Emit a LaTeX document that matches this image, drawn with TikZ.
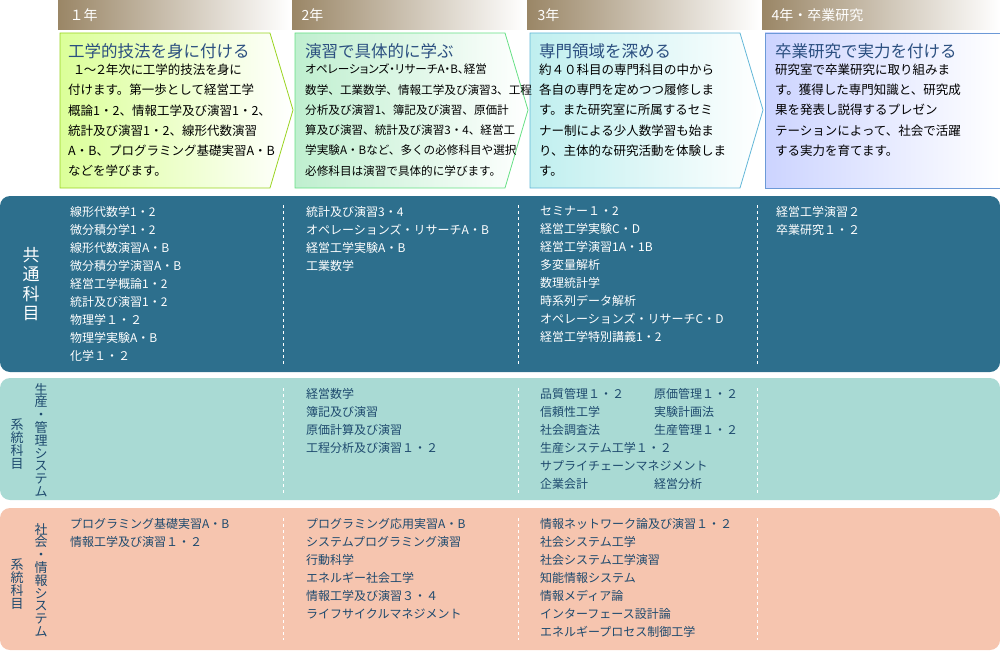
\documentclass[tikz,border=0pt]{standalone}
\usepackage{fontspec}
\setmainfont{Noto Sans CJK JP}
\usetikzlibrary{positioning}
\definecolor{headbrown}{HTML}{9A8666}
\definecolor{bandblue}{HTML}{2D6F8D}
\definecolor{bandmint}{HTML}{A9DAD4}
\definecolor{bandpeach}{HTML}{F6C5AF}
\definecolor{navytext}{HTML}{1E4A6E}
\definecolor{titletext}{HTML}{2B4F80}
\tikzset{
  yearhead/.style={anchor=west,font=\fontsize{14}{14}\selectfont,text=white},
  chevtitle/.style={anchor=north west,font=\fontsize{16.5}{16.5}\selectfont,text=titletext,inner sep=0pt},
  chevbody/.style={anchor=north west,font=\fontsize{12.5}{20.3}\selectfont,align=left,inner sep=0pt},
  subjects/.style={anchor=north west,font=\fontsize{12}{18}\selectfont,align=left,inner sep=0pt},
  vlabel/.style={font=\fontsize{13}{12.8}\selectfont,align=center,inner sep=0pt},
  divider/.style={white,dashed,line width=0.8pt}
}
\begin{document}
\begin{tikzpicture}[x=1pt,y=-1pt]
  \useasboundingbox (0,0) rectangle (1000,650);
  % year headers
  \foreach \xa/\xb in {58/290,292/525,527/760,762/1000}
    \shade[left color=headbrown,right color=white] (\xa,0) rectangle (\xb,30);
  \node[yearhead] (h1) at (66,15) {１年};
  \node[yearhead] (h2) at (298,15) {2年};
  \node[yearhead] (h3) at (534,15) {3年};
  \node[yearhead] (h4) at (768,15) {4年・卒業研究};
  % chevrons
  \shade[left color=green!35!yellow!40,right color=white] (60,33) -- (270,33) -- (293,110) -- (270,188) -- (60,188) -- cycle;
  \draw[yellow!60!green,line width=0.8pt] (60,33) -- (270,33) -- (293,110) -- (270,188) -- (60,188) -- cycle;
  \shade[left color=green!50!teal!25,right color=white] (295,33) -- (505,33) -- (528,110) -- (505,188) -- (295,188) -- cycle;
  \draw[green!60!teal!60,line width=0.8pt] (295,33) -- (505,33) -- (528,110) -- (505,188) -- (295,188) -- cycle;
  \shade[left color=cyan!50!teal!25,right color=white] (530,33) -- (740,33) -- (763,110) -- (740,188) -- (530,188) -- cycle;
  \draw[cyan!60!teal!70,line width=0.8pt] (530,33) -- (740,33) -- (763,110) -- (740,188) -- (530,188) -- cycle;
  \shade[left color=cyan!15!blue!20,right color=white] (765,33) rectangle (1000,188);
  \draw[cyan!50!blue!60,line width=0.8pt] (765,33) rectangle (1000,188);
  \node[chevtitle] (t1) at (68,43) {工学的技法を身に付ける};
  \node[chevbody,below=5pt of t1.south west,anchor=north west] (b1) {\addfontfeature{RawFeature=+palt}\hspace{0.5em}１～２年次に工学的技法を身に\\付けます。第一歩として経営工学\\概論1・2、情報工学及び演習1・2、\\統計及び演習1・2、線形代数演習\\A・B、プログラミング基礎実習A・B\\などを学びます。};
  \node[chevtitle] (t2) at (305,43) {演習で具体的に学ぶ};
  \node[chevbody,below=5pt of t2.south west,anchor=north west,font=\fontsize{11.6}{20.3}\selectfont] (b2) {\addfontfeature{RawFeature=+palt}オペレーションズ・リサーチA・B、経営\\数学、工業数学、情報工学及び演習3、工程\\分析及び演習1、簿記及び演習、原価計\\算及び演習、統計及び演習3・4、経営工\\学実験A・Bなど、多くの必修科目や選択\\必修科目は演習で具体的に学びます。};
  \node[chevtitle] (t3) at (539,43) {専門領域を深める};
  \node[chevbody,below=5pt of t3.south west,anchor=north west] (b3) {約４０科目の専門科目の中から\\各自の専門を定めつつ履修しま\\す。また研究室に所属するセミ\\ナー制による少人数学習も始ま\\り、主体的な研究活動を体験しま\\す。};
  \node[chevtitle] (t4) at (775,43) {卒業研究で実力を付ける};
  \node[chevbody,below=5pt of t4.south west,anchor=north west] (b4) {研究室で卒業研究に取り組みま\\す。獲得した専門知識と、研究成\\果を発表し説得するプレゼン\\テーションによって、社会で活躍\\する実力を育てます。};
  % bands
  \fill[bandblue,rounded corners=10pt] (0,196) rectangle (1000,372);
  \fill[bandmint,rounded corners=10pt] (0,378) rectangle (1000,500);
  \fill[bandpeach,rounded corners=10pt] (0,508) rectangle (1000,650);
  \foreach \xd in {283,518,757} {
    \draw[divider] (\xd,205) -- (\xd,365);
    \draw[divider] (\xd,388) -- (\xd,495);
    \draw[divider] (\xd,518) -- (\xd,640);
  }
  % row labels
  \node[vlabel,text=white,font=\fontsize{17}{19.5}\selectfont] (l1) at (31,284) {共\\通\\科\\目};
  \node[vlabel,text=navytext] (l2a) at (41,440) {生\\産\\・\\管\\理\\シ\\ス\\テ\\ム};
  \node[vlabel,text=navytext] (l2b) at (17,444) {系\\統\\科\\目};
  \node[vlabel,text=navytext] (l3a) at (41,580) {社\\会\\・\\情\\報\\シ\\ス\\テ\\ム};
  \node[vlabel,text=navytext] (l3b) at (17,584) {系\\統\\科\\目};
  % common subjects
  \node[subjects,text=white] (c1) at (70,206) {線形代数学1・2\\微分積分学1・2\\線形代数演習A・B\\微分積分学演習A・B\\経営工学概論1・2\\統計及び演習1・2\\物理学１・２\\物理学実験A・B\\化学１・２};
  \node[subjects,text=white] (c2) at (306,206) {統計及び演習3・4\\オペレーションズ・リサーチA・B\\経営工学実験A・B\\工業数学};
  \node[subjects,text=white] (c3) at (540,206) {セミナー１・2\\経営工学実験C・D\\経営工学演習1A・1B\\多変量解析\\数理統計学\\時系列データ解析\\オペレーションズ・リサーチC・D\\経営工学特別講義1・2};
  \node[subjects,text=white] (c4) at (776,206) {経営工学演習２\\卒業研究１・２};
  % production subjects
  \node[subjects,text=navytext] (p2) at (306,388) {経営数学\\簿記及び演習\\原価計算及び演習\\工程分析及び演習１・２};
  \node[subjects,text=navytext] (p3) at (540,388) {品質管理１・２\\信頼性工学\\社会調査法\\生産システム工学１・２\\サプライチェーンマネジメント\\企業会計};
  \node[subjects,text=navytext] (p3b) at (654,388) {原価管理１・２\\実験計画法\\生産管理１・２\\\\\\経営分析};
  % social subjects
  \node[subjects,text=navytext] (s1) at (70,518) {プログラミング基礎実習A・B\\情報工学及び演習１・２};
  \node[subjects,text=navytext] (s2) at (306,518) {プログラミング応用実習A・B\\システムプログラミング演習\\行動科学\\エネルギー社会工学\\情報工学及び演習３・４\\ライフサイクルマネジメント};
  \node[subjects,text=navytext] (s3) at (540,518) {情報ネットワーク論及び演習１・２\\社会システム工学\\社会システム工学演習\\知能情報システム\\情報メディア論\\インターフェース設計論\\エネルギープロセス制御工学};
\end{tikzpicture}
\end{document}
